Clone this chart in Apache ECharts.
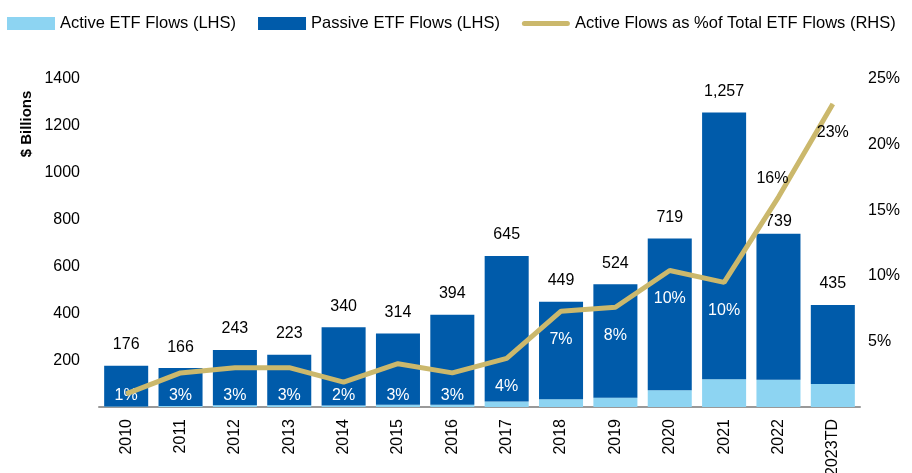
<!DOCTYPE html>
<html lang="en">
<head>
    <meta charset="UTF-8">
    <title>ETF Flows</title>
    <script src="https://cdn.jsdelivr.net/npm/echarts@6/dist/echarts.min.js"></script>
    <style>
        body { margin: 0; background: #fff; }
    </style>
</head>
<body>
    <div id="main" style="width: 912px;height:473px;"></div>
    <script type="text/javascript">
        // data ($ billions)
        var years = ['2010', '2011', '2012', '2013', '2014', '2015', '2016', '2017', '2018', '2019', '2020', '2021', '2022', '2023TD'];
        var totals = [176, 166, 243, 223, 340, 314, 394, 645, 449, 524, 719, 1257, 739, 435];
        var active = [2, 4, 7, 7, 6, 10, 10, 24, 33, 40, 72, 118, 116, 98];
        var activePct = [1.0, 2.6, 3.0, 3.0, 1.9, 3.3, 2.6, 3.7, 7.3, 7.6, 10.4, 9.5, 16.0, 23.1];
        var pctLabels = ['1%', '3%', '3%', '3%', '2%', '3%', '3%', '4%', '7%', '8%', '10%', '10%', '16%', '23%'];
        var leftTicks = [0, 1400, 200];   // min, max, interval
        var rightTicks = [0, 25, 5];

        var passive = totals.map(function (t, i) { return t - active[i]; });

        var FONT = '"Liberation Sans", Arial, sans-serif';

        var myChart = echarts.init(document.getElementById('main'));

        // percent labels: first years sit at the bottom of the bars, later ones follow the line
        var activeData = active.map(function (v, i) {
            return {
                value: v,
                label: { show: i < 7, formatter: pctLabels[i] }
            };
        });
        var lineData = activePct.map(function (v, i) {
            var lab = { show: i >= 7, formatter: pctLabels[i], position: 'bottom', distance: 20,
                        color: i >= 12 ? '#000' : '#fff' };
            if (i === 12) { lab.position = 'top'; lab.distance = 10; lab.offset = [-6, 0]; }
            return { value: v, label: lab };
        });
        var passiveData = passive.map(function (v, i) {
            return {
                value: v,
                label: { distance: i === 12 ? 4 : 13 }
            };
        });

        var option = {
            animation: false,
            textStyle: { fontFamily: FONT },
            legend: {
                left: 7,
                top: 15,
                padding: 0,
                itemWidth: 48,
                itemHeight: 13,
                itemGap: 22,
                textStyle: { fontSize: 16.5, color: '#000', fontFamily: FONT },
                data: [
                    { name: 'Active ETF Flows (LHS)', icon: 'rect' },
                    { name: 'Passive ETF Flows (LHS)', icon: 'rect' },
                    // thin rounded bar, padded with move-to points so it keeps the full box
                    { name: 'Active Flows as %of Total ETF Flows (RHS)',
                      icon: 'path://M0,0 M48,13 M2.5,4 L45.5,4 A2.5,2.5 0 0 1 45.5,9 L2.5,9 A2.5,2.5 0 0 1 2.5,4 Z' }
                ]
            },
            grid: { left: 99, right: 52, top: 79, bottom: 66, outerBoundsMode: 'none', containLabel: false },
            graphic: [{
                type: 'text',
                x: 27,
                y: 124,
                rotation: Math.PI / 2,
                style: {
                    text: '$ Billions',
                    font: 'bold 15px ' + FONT,
                    fill: '#000',
                    align: 'center',
                    verticalAlign: 'middle'
                }
            }],
            xAxis: {
                type: 'category',
                data: years,
                axisLine: { lineStyle: { color: '#999', width: 2 } },
                axisTick: { show: false },
                axisLabel: { rotate: 90, fontSize: 16, color: '#000', margin: 12, fontFamily: FONT }
            },
            yAxis: [{
                type: 'value',
                min: leftTicks[0],
                max: leftTicks[1],
                interval: leftTicks[2],
                splitLine: { show: false },
                axisLine: { show: false },
                axisTick: { show: false },
                axisLabel: {
                    fontSize: 16, color: '#000', margin: 19, fontFamily: FONT,
                    formatter: function (v) { return v === 0 ? '' : v; }
                }
            }, {
                type: 'value',
                min: rightTicks[0],
                max: rightTicks[1],
                interval: rightTicks[2],
                splitLine: { show: false },
                axisLine: { show: false },
                axisTick: { show: false },
                axisLabel: {
                    fontSize: 16, color: '#000', margin: 8, fontFamily: FONT,
                    formatter: function (v) { return v === 0 ? '' : v + '%'; }
                }
            }],
            series: [{
                name: 'Active ETF Flows (LHS)',
                type: 'bar',
                stack: 'flows',
                barCategoryGap: '19%',
                itemStyle: { color: '#8DD4F2' },
                label: {
                    position: 'insideBottom',
                    distance: 3,
                    color: '#fff',
                    fontSize: 16,
                    fontFamily: FONT
                },
                data: activeData
            }, {
                name: 'Passive ETF Flows (LHS)',
                type: 'bar',
                stack: 'flows',
                barCategoryGap: '19%',
                itemStyle: { color: '#005BAA' },
                label: {
                    show: true,
                    position: 'top',
                    color: '#000',
                    fontSize: 16,
                    fontFamily: FONT,
                    formatter: function (p) { return totals[p.dataIndex].toLocaleString('en-US'); }
                },
                data: passiveData
            }, {
                name: 'Active Flows as %of Total ETF Flows (RHS)',
                type: 'line',
                yAxisIndex: 1,
                symbol: 'circle',
                symbolSize: 1,
                showSymbol: true,
                z: 5,
                lineStyle: { color: '#CBB86C', width: 5 },
                itemStyle: { color: '#CBB86C' },
                label: { show: true, fontSize: 16, fontFamily: FONT },
                data: lineData
            }]
        };

        myChart.setOption(option);
    </script>
</body>
</html>
